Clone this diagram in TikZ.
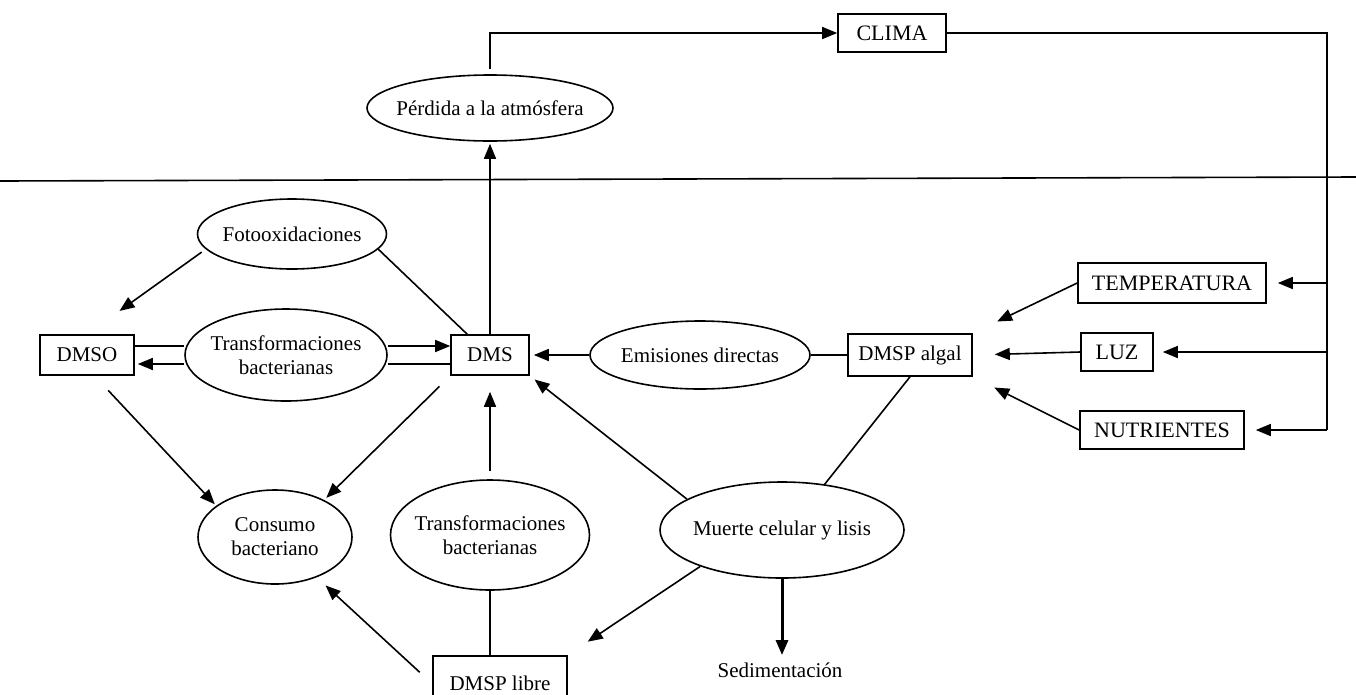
\documentclass[tikz,border=0pt]{standalone}
\usepackage{fontspec}
\setmainfont{Liberation Serif}
\usetikzlibrary{shapes.geometric,arrows.meta}
\begin{document}
\begin{tikzpicture}[x=1pt,y=-1pt,
  lw/.style={line width=1.6pt},
  txt/.style={font=\fontsize{21}{24}\selectfont},
  captxt/.style={font=\fontsize{22}{24}\selectfont},
  oval/.style={ellipse, draw, lw, txt, inner sep=-40pt, align=center},
  box/.style={rectangle, draw, lw, inner sep=0pt},
  arr/.style={lw, -{Triangle[length=15pt,width=12pt]}},
  link/.style={lw}]
\useasboundingbox (0,0) rectangle (1356,694);

% sea surface
\coordinate (sl) at (0,181);
\coordinate (sr) at (1356,177);
\draw[link] (sl) -- (sr);

% atmosphere
\node[oval, minimum width=246, minimum height=66] (perdida) at (490,108) {Pérdida a la atmósfera};
\node[box, captxt, minimum width=108, minimum height=38] (clima) at (892,33) {CLIMA};

% forcing factors
\node[box, captxt, minimum width=188, minimum height=40] (temp) at (1172,283) {TEMPERATURA};
\node[box, captxt, minimum width=72, minimum height=38] (luz) at (1117,352) {LUZ};
\node[box, captxt, minimum width=164, minimum height=38] (nutr) at (1162,430) {NUTRIENTES};
\coordinate (rb) at (1327,430);

% water column
\node[box, txt, minimum width=124, minimum height=42] (algal) at (910,355) {DMSP algal};
\node[oval, minimum width=220, minimum height=68] (emis) at (700,355) {Emisiones directas};
\node[box, txt, minimum width=78, minimum height=40] (dms) at (490,355) {DMS};
\node[box, txt, minimum width=94, minimum height=40] (dmso) at (87,355) {DMSO};
\node[oval, minimum width=202, minimum height=92] (tb1) at (286,355) {Transformaciones\\bacterianas};
\node[oval, minimum width=189, minimum height=70] (foto) at (292,234) {Fotooxidaciones};
\node[oval, minimum width=154, minimum height=94] (cons) at (275,537) {Consumo\\bacteriano};
\node[oval, minimum width=199, minimum height=110] (tb2) at (490,535) {Transformaciones\\bacterianas};
\node[oval, minimum width=244, minimum height=96] (muerte) at (782,530) {Muerte celular y lisis};
\node[box, txt, minimum width=134, minimum height=56, anchor=north] (libre) at (500,655) {DMSP libre};
\node[txt] (sed) at (780,670) {Sedimentación};

% exchange with the atmosphere and climate loop
\draw[arr, shorten >=2pt] (dms) -- (perdida);
\draw[arr, shorten <=5pt] (perdida.north) |- (clima.west);
\draw[link] (clima.east) -| (rb);
\draw[arr, shorten >=11pt] (temp.east -| rb) -- (temp.east);
\draw[arr, shorten >=9pt] (luz.east -| rb) -- (luz.east);
\draw[arr, shorten >=11pt] (rb) -- (nutr.east);

% controls on algal DMSP
\draw[arr, shorten >=27pt] (temp.west) -- (algal.north east);
\draw[arr, shorten >=22pt] (luz.west) -- (algal.east);
\draw[arr, shorten >=24pt] (nutr.west) -- (algal.south east);

% DMS pathways
\draw[link] (algal.west) -- (emis.east);
\draw[arr, shorten >=4pt] (emis.west) -- (dms.east);
\draw[arr] ([yshift=9pt]tb1.east) -- ([yshift=9pt]dms.west);
\draw[link] ([yshift=-9pt]tb1.east) -- ([yshift=-9pt]dms.west);
\draw[link] ([yshift=9pt]dmso.east) -- ([yshift=9pt]tb1.west);
\draw[arr, shorten >=3pt] ([yshift=-9pt]tb1.west) -- ([yshift=-9pt]dmso.east);
\draw[arr, shorten <=5pt, shorten >=40pt] (foto.190) -- (dmso.north);
\draw[link] (foto.-10) -- ([xshift=17pt]dms.north west);
\draw[arr, shorten <=20pt, shorten >=2pt] (dmso.-70) -- (cons.152);
\draw[arr, shorten <=15pt, shorten >=3pt] (dms.south west) -- (cons.37);
\draw[arr, shorten <=8pt, shorten >=16pt] (tb2.north) -- (dms.south);
\draw[link] (tb2.south) -- (tb2.south |- libre.north);
\draw[arr, shorten <=17pt, shorten >=12pt] (libre.west) -- (cons.-44);
\draw[arr, shorten >=6pt] (muerte.162) -- (dms.south east);
\draw[link] (algal.south) -- (muerte.47);
\draw[arr, shorten >=24pt] (muerte.204) -- (libre.north east);
\draw[line width=3pt, -{Triangle[length=15pt,width=12pt]}, shorten >=4pt] (muerte.south) -- (muerte.south |- sed.north);
\end{tikzpicture}
\end{document}
